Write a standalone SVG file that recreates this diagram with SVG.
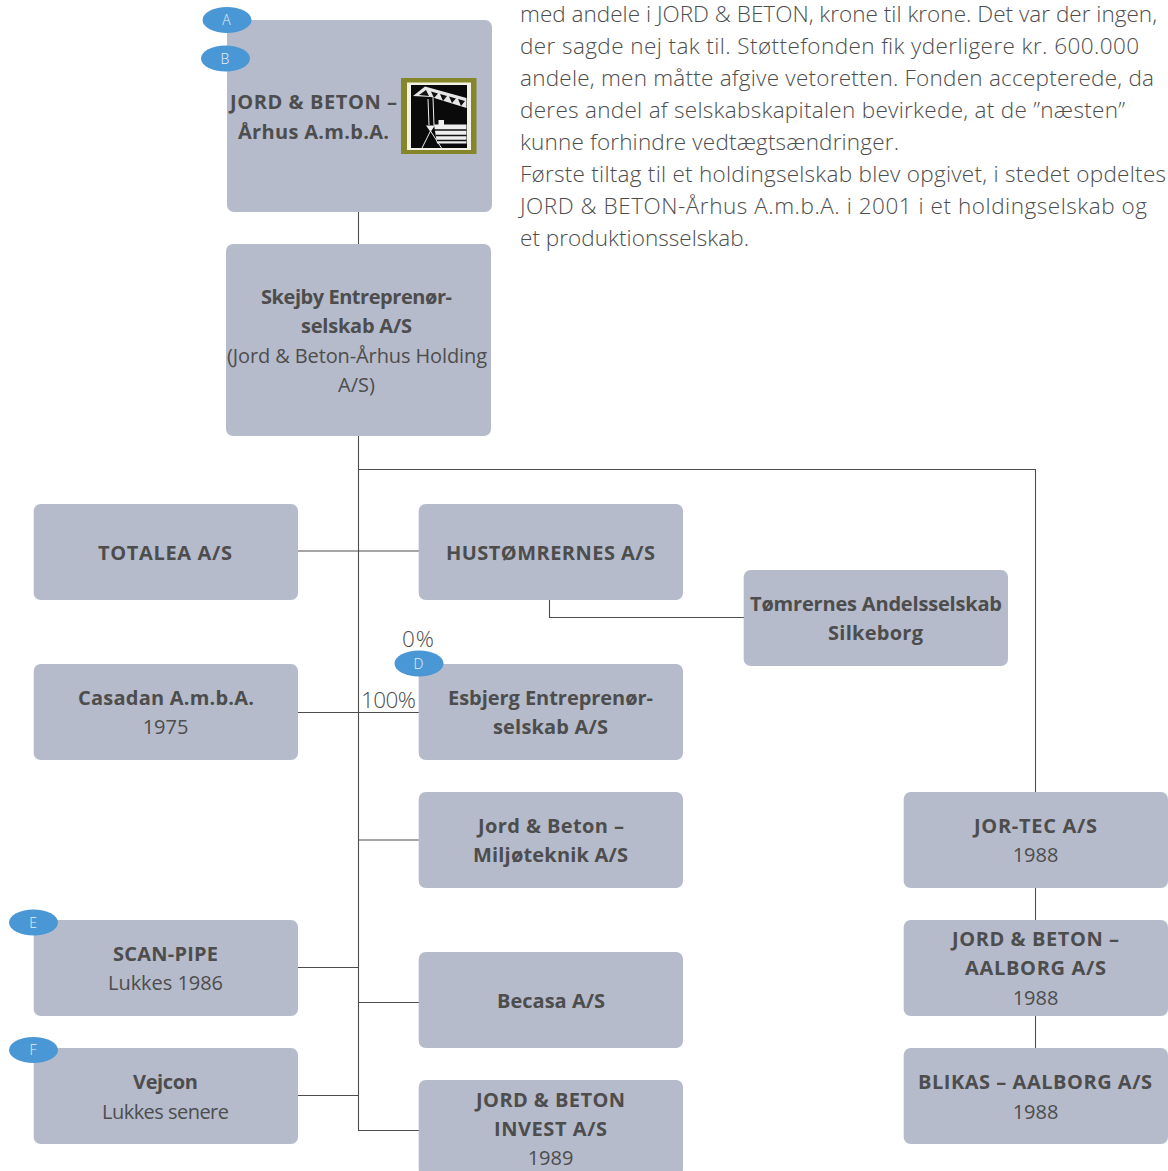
<svg xmlns="http://www.w3.org/2000/svg" width="1168" height="1171" viewBox="0 0 1168 1171">
<style>
text{font-family:"Open Sans","Noto Sans","DejaVu Sans",sans-serif;fill:#4d4d4d;}
.n{fill:#b5bbcb;}
.t{font-size:20px;text-anchor:middle;}
.b{font-weight:700;}
.p{font-size:22.5px;fill:#4d4d4d;font-weight:300;}
.c{fill:none;stroke:#4d4d4d;stroke-width:1.100;}
.e{fill:#4a97d6;}
.l{font-size:14px;fill:#e8f1fa;text-anchor:middle;font-weight:300;}
.q{font-size:22.500px;fill:#4d4d4d;text-anchor:middle;font-weight:300;}
</style>
<g id="connectors">
<path class="c" d="M358.500 212V1130.500H419"/>
<path class="c" d="M358.500 469.500H1035.500V792"/>
<path class="c" d="M298 551H419"/>
<path class="c" d="M549.500 600V617.500H744"/>
<path class="c" d="M298 712.500H419"/>
<path class="c" d="M358.500 840H419"/>
<path class="c" d="M298 967.500H358.500"/>
<path class="c" d="M358.500 1002.500H419"/>
<path class="c" d="M298 1095.500H358.500"/>
<path class="c" d="M1035.500 888V920M1035.500 1016V1048"/>
</g>
<g id="n-jord"><rect class="n" x="227" y="20" width="265" height="192" rx="7"/>
<text class="t b" x="313.500" y="109" textLength="167">JORD &amp; BETON –</text><text class="t b" x="313.500" y="139" textLength="151">Århus A.m.b.A.</text>
<g id="logo"><rect x="401" y="78" width="75.500" height="76" fill="#85852a"/><rect x="407" y="82.500" width="64" height="67.500" fill="#f2f2e6"/><rect x="411" y="85" width="56" height="63" fill="#0a0a0a"/>
<path d="M413 96L425 86.500L466.500 98V108L431 97Z" fill="#e6e6e6"/>
<path d="M419 95L426 90L429 96ZM431 91.500L438 93.500L434 98ZM440 94L447 96L443 101ZM449 96.500L456 98.500L452 103ZM458 99L465 101L461 106Z" fill="#111"/>
<path d="M428 99L429 125M433 98L434 125M430.500 131L422 148M430.500 131L441.500 148" stroke="#eee" stroke-width="1" fill="none"/>
<path d="M426 125.500H435L430.500 132Z" fill="#eee"/>
<path d="M434 124.500H466.500V143.500H437Z" fill="#eee"/><rect x="438.500" y="120" width="5.500" height="5" fill="#eee"/>
<path d="M434 130H466.500M436 135.500H466.500M437 140.500H466.500" stroke="#111" stroke-width="1.300"/></g>
</g>
<g id="n-skejby"><rect class="n" x="226" y="244" width="265" height="192" rx="7"/>
<text class="t b" x="356.500" y="304" textLength="191">Skejby Entreprenør-</text><text class="t b" x="356.500" y="333" textLength="111">selskab A/S</text><text class="t" x="357" y="363" textLength="260">(Jord &amp; Beton-Århus Holding</text><text class="t" x="356.500" y="392" textLength="37">A/S)</text></g>
<g id="n-totalea"><rect class="n" x="33.700" y="504" width="264.300" height="96" rx="7"/><text class="t b" x="165" y="560" textLength="134">TOTALEA A/S</text></g>
<g id="n-hus"><rect class="n" x="418.700" y="504" width="264.300" height="96" rx="7"/><text class="t b" x="550.500" y="560" textLength="209">HUSTØMRERNES A/S</text></g>
<g id="n-tomrer"><rect class="n" x="743.700" y="570" width="264.300" height="96" rx="7"/><text class="t b" x="876" y="611" textLength="252">Tømrernes Andelsselskab</text><text class="t b" x="875.500" y="640" textLength="95">Silkeborg</text></g>
<g id="n-casadan"><rect class="n" x="33.700" y="664" width="264.300" height="96" rx="7"/><text class="t b" x="166" y="705" textLength="176">Casadan A.m.b.A.</text><text class="t" x="165.500" y="734">1975</text></g>
<g id="n-esbjerg"><rect class="n" x="418.700" y="664" width="264.300" height="96" rx="7"/><text class="t b" x="550.500" y="705" textLength="205">Esbjerg Entreprenør-</text><text class="t b" x="550.500" y="734" textLength="115">selskab A/S</text></g>
<g id="n-milj"><rect class="n" x="418.700" y="792" width="264.300" height="96" rx="7"/><text class="t b" x="551" y="833" textLength="146">Jord &amp; Beton –</text><text class="t b" x="550.500" y="862" textLength="155">Miljøteknik A/S</text></g>
<g id="n-jortec"><rect class="n" x="903.700" y="792" width="264.300" height="96" rx="7"/><text class="t b" x="1035.500" y="833" textLength="123">JOR-TEC A/S</text><text class="t" x="1035.500" y="862">1988</text></g>
<g id="n-scan"><rect class="n" x="33.700" y="920" width="264.300" height="96" rx="7"/><text class="t b" x="165.500" y="961" textLength="105">SCAN-PIPE</text><text class="t" x="165.500" y="990" textLength="115">Lukkes 1986</text></g>
<g id="n-aalborg"><rect class="n" x="903.700" y="920" width="264.300" height="96" rx="7"/><text class="t b" x="1035.500" y="946" textLength="167">JORD &amp; BETON –</text><text class="t b" x="1035.500" y="975" textLength="141">AALBORG A/S</text><text class="t" x="1035.500" y="1005">1988</text></g>
<g id="n-becasa"><rect class="n" x="418.700" y="952" width="264.300" height="96" rx="7"/><text class="t b" x="551" y="1008" textLength="108">Becasa A/S</text></g>
<g id="n-vejcon"><rect class="n" x="33.700" y="1048" width="264.300" height="96" rx="7"/><text class="t b" x="165.500" y="1089" textLength="65">Vejcon</text><text class="t" x="165.500" y="1119" textLength="127">Lukkes senere</text></g>
<g id="n-blikas"><rect class="n" x="903.700" y="1048" width="264.300" height="96" rx="7"/><text class="t b" x="1035" y="1089" textLength="234">BLIKAS – AALBORG A/S</text><text class="t" x="1035.500" y="1119">1988</text></g>
<g id="n-invest"><rect class="n" x="418.700" y="1080" width="264.300" height="96" rx="7"/><text class="t b" x="550.500" y="1107" textLength="149">JORD &amp; BETON</text><text class="t b" x="550.500" y="1136" textLength="113">INVEST A/S</text><text class="t" x="550.500" y="1165">1989</text></g>
<g id="badge-a"><ellipse class="e" cx="227" cy="20" rx="24.500" ry="13"/><text class="l" x="226.500" y="25">A</text></g>
<g id="badge-b"><ellipse class="e" cx="225.500" cy="58.500" rx="24.500" ry="13"/><text class="l" x="225" y="64">B</text></g>
<g id="badge-d"><ellipse class="e" cx="419" cy="663.500" rx="24.500" ry="13"/><text class="l" x="418.500" y="669">D</text></g>
<g id="badge-e"><ellipse class="e" cx="33.500" cy="922.500" rx="24.500" ry="13"/><text class="l" x="33" y="928">E</text></g>
<g id="badge-f"><ellipse class="e" cx="33.500" cy="1050" rx="24.500" ry="13"/><text class="l" x="33" y="1055">F</text></g>
<text class="q" x="418" y="647" textLength="32">0%</text>
<text class="q" x="388.500" y="708" textLength="55">100%</text>
<g id="body">
<text class="p" x="520" y="22" textLength="637">med andele i JORD &amp; BETON, krone til krone. Det var der ingen,</text>
<text class="p" x="520" y="54" textLength="619">der sagde nej tak til. Støttefonden fik yderligere kr. 600.000</text>
<text class="p" x="520" y="86" textLength="634">andele, men måtte afgive vetoretten. Fonden accepterede, da</text>
<text class="p" x="520" y="118" textLength="605">deres andel af selskabskapitalen bevirkede, at de ”næsten”</text>
<text class="p" x="520" y="150" textLength="379">kunne forhindre vedtægtsændringer.</text>
<text class="p" x="520" y="182" textLength="646">Første tiltag til et holdingselskab blev opgivet, i stedet opdeltes</text>
<text class="p" x="520" y="214" textLength="627">JORD &amp; BETON-Århus A.m.b.A. i 2001 i et holdingselskab og</text>
<text class="p" x="520" y="246" textLength="229">et produktionsselskab.</text>
</g>
</svg>
